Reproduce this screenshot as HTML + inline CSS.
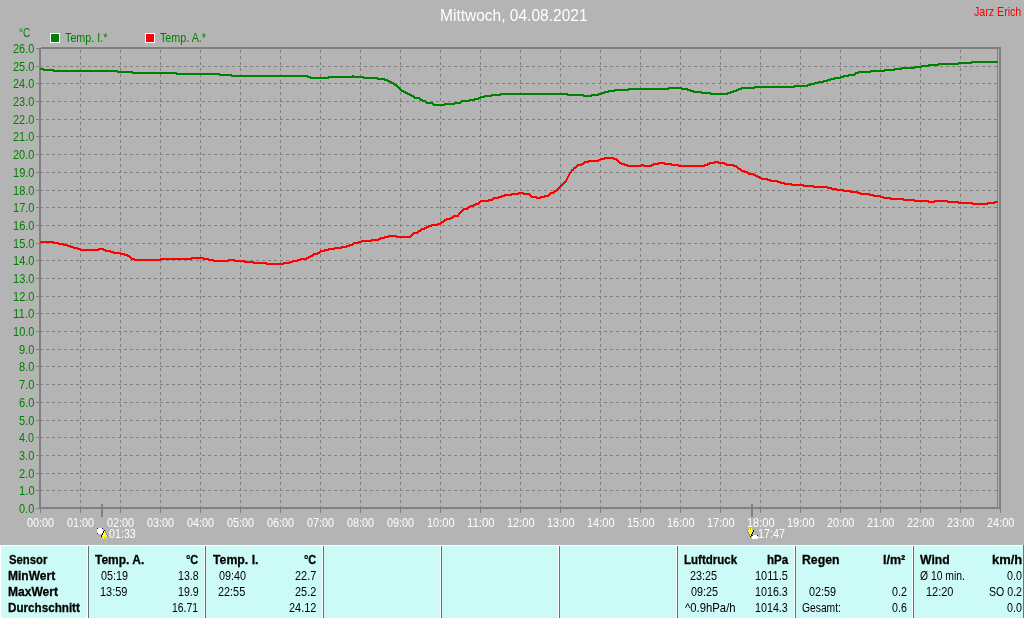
<!DOCTYPE html>
<html><head><meta charset="utf-8"><title>Mittwoch, 04.08.2021</title>
<style>
html,body{margin:0;padding:0;background:#b4b4b4;}
body{width:1024px;height:618px;position:relative;overflow:hidden;font-family:"Liberation Sans",sans-serif;}
#txt{position:absolute;left:0;top:0;width:1024px;height:618px;will-change:transform;}
span{position:absolute;white-space:pre;line-height:20px;transform-origin:0 0;display:block}
</style></head><body>
<svg width="1024" height="618" viewBox="0 0 1024 618" style="position:absolute;left:0;top:0" shape-rendering="crispEdges"><g stroke="#808080" stroke-width="1" stroke-dasharray="3 3" fill="none"><line x1="80.5" y1="509" x2="80.5" y2="49" /><line x1="120.5" y1="509" x2="120.5" y2="49" /><line x1="160.5" y1="509" x2="160.5" y2="49" /><line x1="200.5" y1="509" x2="200.5" y2="49" /><line x1="240.5" y1="509" x2="240.5" y2="49" /><line x1="280.5" y1="509" x2="280.5" y2="49" /><line x1="320.5" y1="509" x2="320.5" y2="49" /><line x1="360.5" y1="509" x2="360.5" y2="49" /><line x1="400.5" y1="509" x2="400.5" y2="49" /><line x1="440.5" y1="509" x2="440.5" y2="49" /><line x1="480.5" y1="509" x2="480.5" y2="49" /><line x1="520.5" y1="509" x2="520.5" y2="49" /><line x1="560.5" y1="509" x2="560.5" y2="49" /><line x1="600.5" y1="509" x2="600.5" y2="49" /><line x1="640.5" y1="509" x2="640.5" y2="49" /><line x1="680.5" y1="509" x2="680.5" y2="49" /><line x1="720.5" y1="509" x2="720.5" y2="49" /><line x1="760.5" y1="509" x2="760.5" y2="49" /><line x1="800.5" y1="509" x2="800.5" y2="49" /><line x1="840.5" y1="509" x2="840.5" y2="49" /><line x1="880.5" y1="509" x2="880.5" y2="49" /><line x1="920.5" y1="509" x2="920.5" y2="49" /><line x1="960.5" y1="509" x2="960.5" y2="49" /><line x1="40" y1="490.5" x2="997" y2="490.5" /><line x1="40" y1="473.5" x2="997" y2="473.5" /><line x1="40" y1="455.5" x2="997" y2="455.5" /><line x1="40" y1="437.5" x2="997" y2="437.5" /><line x1="40" y1="420.5" x2="997" y2="420.5" /><line x1="40" y1="402.5" x2="997" y2="402.5" /><line x1="40" y1="384.5" x2="997" y2="384.5" /><line x1="40" y1="366.5" x2="997" y2="366.5" /><line x1="40" y1="349.5" x2="997" y2="349.5" /><line x1="40" y1="331.5" x2="997" y2="331.5" /><line x1="40" y1="313.5" x2="997" y2="313.5" /><line x1="40" y1="296.5" x2="997" y2="296.5" /><line x1="40" y1="278.5" x2="997" y2="278.5" /><line x1="40" y1="260.5" x2="997" y2="260.5" /><line x1="40" y1="243.5" x2="997" y2="243.5" /><line x1="40" y1="225.5" x2="997" y2="225.5" /><line x1="40" y1="207.5" x2="997" y2="207.5" /><line x1="40" y1="190.5" x2="997" y2="190.5" /><line x1="40" y1="172.5" x2="997" y2="172.5" /><line x1="40" y1="154.5" x2="997" y2="154.5" /><line x1="40" y1="136.5" x2="997" y2="136.5" /><line x1="40" y1="119.5" x2="997" y2="119.5" /><line x1="40" y1="101.5" x2="997" y2="101.5" /><line x1="40" y1="83.5" x2="997" y2="83.5" /><line x1="40" y1="66.5" x2="997" y2="66.5" /></g><g fill="#808080"><rect x="36" y="508" width="3" height="1"/><rect x="36" y="490" width="3" height="1"/><rect x="36" y="473" width="3" height="1"/><rect x="36" y="455" width="3" height="1"/><rect x="36" y="437" width="3" height="1"/><rect x="36" y="420" width="3" height="1"/><rect x="36" y="402" width="3" height="1"/><rect x="36" y="384" width="3" height="1"/><rect x="36" y="366" width="3" height="1"/><rect x="36" y="349" width="3" height="1"/><rect x="36" y="331" width="3" height="1"/><rect x="36" y="313" width="3" height="1"/><rect x="36" y="296" width="3" height="1"/><rect x="36" y="278" width="3" height="1"/><rect x="36" y="260" width="3" height="1"/><rect x="36" y="243" width="3" height="1"/><rect x="36" y="225" width="3" height="1"/><rect x="36" y="207" width="3" height="1"/><rect x="36" y="190" width="3" height="1"/><rect x="36" y="172" width="3" height="1"/><rect x="36" y="154" width="3" height="1"/><rect x="36" y="136" width="3" height="1"/><rect x="36" y="119" width="3" height="1"/><rect x="36" y="101" width="3" height="1"/><rect x="36" y="83" width="3" height="1"/><rect x="36" y="66" width="3" height="1"/><rect x="36" y="48" width="3" height="1"/><rect x="40" y="509" width="1" height="4"/><rect x="80" y="509" width="1" height="4"/><rect x="120" y="509" width="1" height="4"/><rect x="160" y="509" width="1" height="4"/><rect x="200" y="509" width="1" height="4"/><rect x="240" y="509" width="1" height="4"/><rect x="280" y="509" width="1" height="4"/><rect x="320" y="509" width="1" height="4"/><rect x="360" y="509" width="1" height="4"/><rect x="400" y="509" width="1" height="4"/><rect x="440" y="509" width="1" height="4"/><rect x="480" y="509" width="1" height="4"/><rect x="520" y="509" width="1" height="4"/><rect x="560" y="509" width="1" height="4"/><rect x="600" y="509" width="1" height="4"/><rect x="640" y="509" width="1" height="4"/><rect x="680" y="509" width="1" height="4"/><rect x="720" y="509" width="1" height="4"/><rect x="760" y="509" width="1" height="4"/><rect x="800" y="509" width="1" height="4"/><rect x="840" y="509" width="1" height="4"/><rect x="880" y="509" width="1" height="4"/><rect x="920" y="509" width="1" height="4"/><rect x="960" y="509" width="1" height="4"/><rect x="1000" y="509" width="1" height="4"/><rect x="39" y="48" width="2" height="461"/><rect x="41" y="47" width="960" height="2"/><rect x="39" y="507" width="962" height="2"/><rect x="999" y="47" width="2" height="462"/><rect x="997" y="49" width="1" height="458"/><rect x="101" y="504" width="2" height="13"/><rect x="751" y="504" width="2" height="13"/></g><path d="M40,68h4v2h-4zM43,69h11v2h-11zM53,70h65v2h-65zM117,71h16v2h-16zM132,72h45v2h-45zM176,73h44v2h-44zM219,74h13v2h-13zM231,75h77v2h-77zM307,76h4v2h-4zM310,77h19v2h-19zM328,76h25v2h-25zM352,75h2v2h-2zM353,76h11v2h-11zM363,77h15v2h-15zM377,78h8v2h-8zM384,79h4v2h-4zM387,80h3v2h-3zM389,81h3v2h-3zM391,82h3v2h-3zM393,83h2v2h-2zM394,84h3v2h-3zM396,85h2v2h-2zM397,86h2v2h-2zM398,87h2v2h-2zM399,88h2v2h-2zM400,89h2v2h-2zM401,90h3v2h-3zM403,91h3v2h-3zM405,92h3v2h-3zM407,93h3v2h-3zM409,94h3v2h-3zM411,95h3v2h-3zM413,96h2v2h-2zM414,97h6v2h-6zM419,98h2v2h-2zM420,99h3v2h-3zM422,100h4v2h-4zM425,101h2v2h-2zM426,102h7v2h-7zM432,103h2v2h-2zM433,104h12v2h-12zM444,103h11v2h-11zM454,102h7v2h-7zM460,101h2v2h-2zM461,100h9v2h-9zM469,99h6v2h-6zM474,98h5v2h-5zM478,97h3v2h-3zM480,96h5v2h-5zM484,95h8v2h-8zM491,94h10v2h-10zM500,93h68v2h-68zM567,94h17v2h-17zM583,95h9v2h-9zM591,94h8v2h-8zM598,93h4v2h-4zM601,92h4v2h-4zM604,91h5v2h-5zM608,90h7v2h-7zM614,89h15v2h-15zM628,88h41v2h-41zM668,87h14v2h-14zM681,88h7v2h-7zM687,89h4v2h-4zM690,90h4v2h-4zM693,91h9v2h-9zM701,92h10v2h-10zM710,93h18v2h-18zM727,92h4v2h-4zM730,91h4v2h-4zM733,90h4v2h-4zM736,89h3v2h-3zM738,88h4v2h-4zM741,87h14v2h-14zM754,86h41v2h-41zM794,85h14v2h-14zM807,84h4v2h-4zM810,83h5v2h-5zM814,82h5v2h-5zM818,81h6v2h-6zM823,80h5v2h-5zM827,79h4v2h-4zM830,78h5v2h-5zM834,77h7v2h-7zM840,76h4v2h-4zM843,75h6v2h-6zM848,74h7v2h-7zM854,73h2v2h-2zM855,72h4v2h-4zM858,71h13v2h-13zM870,70h15v2h-15zM884,69h11v2h-11zM894,68h8v2h-8zM901,67h14v2h-14zM914,66h8v2h-8zM921,65h8v2h-8zM928,64h11v2h-11zM938,63h21v2h-21zM958,62h14v2h-14zM971,61h27v2h-27z" fill="#008000"/><path d="M40,241h14v2h-14zM53,242h6v2h-6zM58,243h6v2h-6zM63,244h5v2h-5zM67,245h4v2h-4zM70,246h4v2h-4zM73,247h5v2h-5zM77,248h4v2h-4zM80,249h19v2h-19zM98,248h6v2h-6zM103,249h3v2h-3zM105,250h6v2h-6zM110,251h4v2h-4zM113,252h8v2h-8zM120,253h5v2h-5zM124,254h4v2h-4zM127,255h3v2h-3zM129,256h2v2h-2zM130,257h2v2h-2zM131,258h4v2h-4zM134,259h27v2h-27zM160,258h32v2h-32zM191,257h13v2h-13zM203,258h6v2h-6zM208,259h6v2h-6zM213,260h16v2h-16zM228,259h7v2h-7zM234,260h11v2h-11zM244,261h10v2h-10zM253,262h14v2h-14zM266,263h18v2h-18zM283,262h7v2h-7zM289,261h4v2h-4zM292,260h6v2h-6zM297,259h4v2h-4zM300,258h7v2h-7zM306,257h3v2h-3zM308,256h3v2h-3zM310,255h3v2h-3zM312,254h2v2h-2zM313,253h5v2h-5zM317,252h3v2h-3zM319,251h2v2h-2zM320,250h5v2h-5zM324,249h5v2h-5zM328,248h7v2h-7zM334,247h8v2h-8zM341,246h6v2h-6zM346,245h4v2h-4zM349,244h4v2h-4zM352,243h2v2h-2zM353,242h6v2h-6zM358,241h4v2h-4zM361,240h11v2h-11zM371,239h8v2h-8zM378,238h3v2h-3zM380,237h5v2h-5zM384,236h5v2h-5zM388,235h9v2h-9zM396,236h15v2h-15zM410,235h2v2h-2zM411,234h2v2h-2zM412,233h2v2h-2zM413,232h5v2h-5zM417,231h2v2h-2zM418,230h3v2h-3zM420,229h2v2h-2zM421,228h4v2h-4zM424,227h3v2h-3zM426,226h3v2h-3zM428,225h4v2h-4zM431,224h7v2h-7zM437,223h4v2h-4zM440,222h2v2h-2zM441,221h3v2h-3zM443,220h2v2h-2zM444,219h3v2h-3zM446,218h5v2h-5zM450,217h3v2h-3zM452,216h2v2h-2zM453,215h6v2h-6zM458,213h2v2h-2zM459,212h2v2h-2zM460,211h2v2h-2zM461,210h2v2h-2zM462,209h2v2h-2zM463,208h5v2h-5zM467,207h2v2h-2zM468,206h3v2h-3zM470,205h4v2h-4zM473,204h3v2h-3zM475,203h4v2h-4zM478,202h2v2h-2zM479,201h2v2h-2zM480,200h9v2h-9zM488,199h5v2h-5zM492,198h2v2h-2zM493,197h6v2h-6zM498,196h4v2h-4zM501,195h4v2h-4zM504,194h8v2h-8zM511,193h8v2h-8zM518,192h6v2h-6zM523,193h7v2h-7zM529,194h2v2h-2zM530,195h2v2h-2zM531,196h6v2h-6zM536,197h5v2h-5zM540,196h5v2h-5zM544,195h5v2h-5zM548,194h2v2h-2zM549,193h2v2h-2zM550,192h4v2h-4zM553,191h2v2h-2zM554,190h3v2h-3zM556,189h2v2h-2zM557,188h2v2h-2zM558,187h2v2h-2zM559,186h2v2h-2zM560,185h2v2h-2zM561,184h2v2h-2zM562,183h2v2h-2zM563,182h2v2h-2zM564,181h2v2h-2zM565,180h2v2h-2zM566,178h2v2h-2zM567,176h2v2h-2zM568,174h2v2h-2zM569,172h2v2h-2zM570,171h2v2h-2zM571,169h3v2h-3zM573,167h3v2h-3zM575,166h2v2h-2zM576,165h2v2h-2zM577,164h5v2h-5zM581,163h3v2h-3zM583,162h2v2h-2zM584,161h5v2h-5zM588,160h11v2h-11zM598,159h3v2h-3zM600,158h5v2h-5zM604,157h10v2h-10zM613,158h4v2h-4zM616,159h2v2h-2zM617,160h2v2h-2zM618,161h2v2h-2zM619,162h3v2h-3zM621,163h4v2h-4zM624,164h4v2h-4zM627,165h15v2h-15zM641,164h3v2h-3zM643,165h9v2h-9zM651,164h3v2h-3zM653,163h6v2h-6zM658,162h7v2h-7zM664,163h8v2h-8zM671,164h8v2h-8zM678,165h27v2h-27zM704,164h4v2h-4zM707,163h3v2h-3zM709,162h6v2h-6zM714,161h5v2h-5zM718,162h7v2h-7zM724,163h3v2h-3zM726,164h8v2h-8zM733,165h4v2h-4zM736,166h2v2h-2zM737,167h2v2h-2zM738,168h3v2h-3zM740,169h2v2h-2zM741,170h4v2h-4zM744,171h4v2h-4zM747,172h2v2h-2zM748,173h6v2h-6zM753,174h3v2h-3zM755,175h3v2h-3zM757,176h3v2h-3zM759,177h3v2h-3zM761,178h7v2h-7zM767,179h4v2h-4zM770,180h8v2h-8zM777,181h4v2h-4zM780,182h5v2h-5zM784,183h8v2h-8zM791,184h13v2h-13zM803,185h11v2h-11zM813,186h15v2h-15zM827,187h5v2h-5zM831,188h6v2h-6zM836,189h8v2h-8zM843,190h8v2h-8zM850,191h8v2h-8zM857,192h4v2h-4zM860,193h10v2h-10zM869,194h5v2h-5zM873,195h8v2h-8zM880,196h4v2h-4zM883,197h8v2h-8zM890,198h14v2h-14zM903,199h12v2h-12zM914,200h15v2h-15zM928,201h7v2h-7zM934,200h14v2h-14zM947,201h12v2h-12zM958,202h15v2h-15zM972,203h16v2h-16zM987,202h8v2h-8zM994,201h4v2h-4z" fill="#ff0000"/><rect x="50" y="33" width="10" height="10" fill="#fff"/><rect x="51" y="34" width="8" height="8" fill="#008000"/><rect x="145" y="33" width="10" height="10" fill="#fff"/><rect x="146" y="34" width="8" height="8" fill="#ff0000"/><rect x="0" y="545" width="1024" height="73" fill="#ccfaf6"/><rect x="0" y="545" width="1024" height="1" fill="#fff"/><rect x="0" y="545" width="1" height="73" fill="#fff"/><rect x="1023" y="545" width="1" height="73" fill="#737070"/><rect x="87" y="546" width="1" height="72" fill="#fff"/><rect x="88" y="546" width="1" height="72" fill="#6e6e6e"/><rect x="204" y="546" width="1" height="72" fill="#fff"/><rect x="205" y="546" width="1" height="72" fill="#6e6e6e"/><rect x="322" y="546" width="1" height="72" fill="#fff"/><rect x="323" y="546" width="1" height="72" fill="#6e6e6e"/><rect x="440" y="546" width="1" height="72" fill="#fff"/><rect x="441" y="546" width="1" height="72" fill="#6e6e6e"/><rect x="558" y="546" width="1" height="72" fill="#fff"/><rect x="559" y="546" width="1" height="72" fill="#6e6e6e"/><rect x="676" y="546" width="1" height="72" fill="#fff"/><rect x="677" y="546" width="1" height="72" fill="#6e6e6e"/><rect x="794" y="546" width="1" height="72" fill="#fff"/><rect x="795" y="546" width="1" height="72" fill="#6e6e6e"/><rect x="912" y="546" width="1" height="72" fill="#fff"/><rect x="913" y="546" width="1" height="72" fill="#6e6e6e"/><rect x="97" y="528" width="6" height="6" fill="#fff"/><rect x="97" y="528" width="1" height="1" fill="#101090"/><rect x="102" y="528" width="1" height="1" fill="#101090"/><rect x="97" y="533" width="1" height="1" fill="#101090"/><rect x="104" y="530" width="1" height="1" fill="#000"/><rect x="103" y="531" width="1" height="2" fill="#000"/><rect x="104" y="531" width="1" height="2" fill="#ffff00"/><rect x="105" y="531" width="1" height="2" fill="#7b86e0"/><rect x="102" y="533" width="1" height="2" fill="#000"/><rect x="103" y="533" width="3" height="2" fill="#ffff00"/><rect x="106" y="533" width="1" height="2" fill="#7b86e0"/><rect x="101" y="535" width="1" height="2" fill="#000"/><rect x="102" y="535" width="5" height="2" fill="#ffff00"/><rect x="107" y="535" width="1" height="2" fill="#7b86e0"/><rect x="103" y="537" width="3" height="2" fill="#ffff00"/><rect x="104" y="537" width="1" height="2" fill="#c8c800"/><rect x="749" y="528" width="3" height="2" fill="#ffff00"/><rect x="750" y="528" width="1" height="2" fill="#c8c800"/><rect x="747" y="530" width="1" height="2" fill="#7b86e0"/><rect x="748" y="530" width="5" height="2" fill="#ffff00"/><rect x="753" y="530" width="1" height="2" fill="#000"/><rect x="748" y="532" width="1" height="2" fill="#7b86e0"/><rect x="749" y="532" width="3" height="2" fill="#ffff00"/><rect x="752" y="532" width="1" height="2" fill="#000"/><rect x="749" y="534" width="1" height="2" fill="#7b86e0"/><rect x="750" y="534" width="1" height="2" fill="#ffff00"/><rect x="751" y="534" width="1" height="2" fill="#000"/><rect x="750" y="536" width="1" height="1" fill="#000"/><rect x="752" y="535" width="6" height="4" fill="#fff"/><rect x="752" y="535" width="1" height="1" fill="#101090"/><rect x="757" y="535" width="1" height="1" fill="#101090"/></svg>
<div id="txt">
<span style="left:439.76px;top:6.48px;font-size:15.94px;color:#fff;font-weight:normal;transform:scaleX(0.9738)">Mittwoch, 04.08.2021</span>
<span style="left:973.69px;top:2.48px;font-size:13.04px;color:#ff0000;font-weight:normal;transform:scaleX(0.8161)">Jarz Erich</span>
<span style="left:19.40px;top:23.48px;font-size:13.04px;color:#008000;font-weight:normal;transform:scaleX(0.7596)">°C</span>
<span style="left:64.78px;top:28.48px;font-size:13.04px;color:#008000;font-weight:normal;transform:scaleX(0.8263)">Temp. I.*</span>
<span style="left:159.88px;top:28.48px;font-size:13.04px;color:#008000;font-weight:normal;transform:scaleX(0.8246)">Temp. A.*</span>
<span style="left:19.27px;top:499.48px;font-size:13.04px;color:#008000;font-weight:normal;transform:scaleX(0.8399)">0.0</span>
<span style="left:18.81px;top:481.48px;font-size:13.04px;color:#008000;font-weight:normal;transform:scaleX(0.8660)">1.0</span>
<span style="left:19.04px;top:464.48px;font-size:13.04px;color:#008000;font-weight:normal;transform:scaleX(0.8527)">2.0</span>
<span style="left:19.27px;top:446.48px;font-size:13.04px;color:#008000;font-weight:normal;transform:scaleX(0.8399)">3.0</span>
<span style="left:19.38px;top:428.48px;font-size:13.04px;color:#008000;font-weight:normal;transform:scaleX(0.8336)">4.0</span>
<span style="left:19.16px;top:411.48px;font-size:13.04px;color:#008000;font-weight:normal;transform:scaleX(0.8463)">5.0</span>
<span style="left:19.04px;top:393.48px;font-size:13.04px;color:#008000;font-weight:normal;transform:scaleX(0.8527)">6.0</span>
<span style="left:19.04px;top:375.48px;font-size:13.04px;color:#008000;font-weight:normal;transform:scaleX(0.8527)">7.0</span>
<span style="left:19.16px;top:357.48px;font-size:13.04px;color:#008000;font-weight:normal;transform:scaleX(0.8463)">8.0</span>
<span style="left:19.16px;top:340.48px;font-size:13.04px;color:#008000;font-weight:normal;transform:scaleX(0.8463)">9.0</span>
<span style="left:13.03px;top:322.48px;font-size:13.04px;color:#008000;font-weight:normal;transform:scaleX(0.8460)">10.0</span>
<span style="left:13.00px;top:304.48px;font-size:13.04px;color:#008000;font-weight:normal;transform:scaleX(0.8816)">11.0</span>
<span style="left:13.03px;top:287.48px;font-size:13.04px;color:#008000;font-weight:normal;transform:scaleX(0.8460)">12.0</span>
<span style="left:13.03px;top:269.48px;font-size:13.04px;color:#008000;font-weight:normal;transform:scaleX(0.8460)">13.0</span>
<span style="left:13.03px;top:251.48px;font-size:13.04px;color:#008000;font-weight:normal;transform:scaleX(0.8460)">14.0</span>
<span style="left:13.03px;top:234.48px;font-size:13.04px;color:#008000;font-weight:normal;transform:scaleX(0.8460)">15.0</span>
<span style="left:13.03px;top:216.48px;font-size:13.04px;color:#008000;font-weight:normal;transform:scaleX(0.8460)">16.0</span>
<span style="left:13.03px;top:198.48px;font-size:13.04px;color:#008000;font-weight:normal;transform:scaleX(0.8460)">17.0</span>
<span style="left:13.03px;top:181.48px;font-size:13.04px;color:#008000;font-weight:normal;transform:scaleX(0.8460)">18.0</span>
<span style="left:13.03px;top:163.48px;font-size:13.04px;color:#008000;font-weight:normal;transform:scaleX(0.8460)">19.0</span>
<span style="left:13.25px;top:145.48px;font-size:13.04px;color:#008000;font-weight:normal;transform:scaleX(0.8369)">20.0</span>
<span style="left:13.25px;top:127.48px;font-size:13.04px;color:#008000;font-weight:normal;transform:scaleX(0.8369)">21.0</span>
<span style="left:13.25px;top:110.48px;font-size:13.04px;color:#008000;font-weight:normal;transform:scaleX(0.8369)">22.0</span>
<span style="left:13.25px;top:92.48px;font-size:13.04px;color:#008000;font-weight:normal;transform:scaleX(0.8369)">23.0</span>
<span style="left:13.25px;top:74.48px;font-size:13.04px;color:#008000;font-weight:normal;transform:scaleX(0.8369)">24.0</span>
<span style="left:13.25px;top:57.48px;font-size:13.04px;color:#008000;font-weight:normal;transform:scaleX(0.8369)">25.0</span>
<span style="left:13.25px;top:39.48px;font-size:13.04px;color:#008000;font-weight:normal;transform:scaleX(0.8369)">26.0</span>
<span style="left:27.47px;top:513.48px;font-size:13.04px;color:#fff;font-weight:normal;transform:scaleX(0.8310)">00:00</span>
<span style="left:67.47px;top:513.48px;font-size:13.04px;color:#fff;font-weight:normal;transform:scaleX(0.8310)">01:00</span>
<span style="left:107.47px;top:513.48px;font-size:13.04px;color:#fff;font-weight:normal;transform:scaleX(0.8310)">02:00</span>
<span style="left:147.47px;top:513.48px;font-size:13.04px;color:#fff;font-weight:normal;transform:scaleX(0.8310)">03:00</span>
<span style="left:187.47px;top:513.48px;font-size:13.04px;color:#fff;font-weight:normal;transform:scaleX(0.8310)">04:00</span>
<span style="left:227.47px;top:513.48px;font-size:13.04px;color:#fff;font-weight:normal;transform:scaleX(0.8310)">05:00</span>
<span style="left:267.47px;top:513.48px;font-size:13.04px;color:#fff;font-weight:normal;transform:scaleX(0.8310)">06:00</span>
<span style="left:307.47px;top:513.48px;font-size:13.04px;color:#fff;font-weight:normal;transform:scaleX(0.8310)">07:00</span>
<span style="left:347.47px;top:513.48px;font-size:13.04px;color:#fff;font-weight:normal;transform:scaleX(0.8310)">08:00</span>
<span style="left:387.47px;top:513.48px;font-size:13.04px;color:#fff;font-weight:normal;transform:scaleX(0.8310)">09:00</span>
<span style="left:427.03px;top:513.48px;font-size:13.04px;color:#fff;font-weight:normal;transform:scaleX(0.8449)">10:00</span>
<span style="left:467.00px;top:513.48px;font-size:13.04px;color:#fff;font-weight:normal;transform:scaleX(0.8719)">11:00</span>
<span style="left:507.03px;top:513.48px;font-size:13.04px;color:#fff;font-weight:normal;transform:scaleX(0.8449)">12:00</span>
<span style="left:547.03px;top:513.48px;font-size:13.04px;color:#fff;font-weight:normal;transform:scaleX(0.8449)">13:00</span>
<span style="left:587.03px;top:513.48px;font-size:13.04px;color:#fff;font-weight:normal;transform:scaleX(0.8449)">14:00</span>
<span style="left:627.03px;top:513.48px;font-size:13.04px;color:#fff;font-weight:normal;transform:scaleX(0.8449)">15:00</span>
<span style="left:667.03px;top:513.48px;font-size:13.04px;color:#fff;font-weight:normal;transform:scaleX(0.8449)">16:00</span>
<span style="left:707.03px;top:513.48px;font-size:13.04px;color:#fff;font-weight:normal;transform:scaleX(0.8449)">17:00</span>
<span style="left:747.03px;top:513.48px;font-size:13.04px;color:#fff;font-weight:normal;transform:scaleX(0.8449)">18:00</span>
<span style="left:787.03px;top:513.48px;font-size:13.04px;color:#fff;font-weight:normal;transform:scaleX(0.8449)">19:00</span>
<span style="left:827.25px;top:513.48px;font-size:13.04px;color:#fff;font-weight:normal;transform:scaleX(0.8379)">20:00</span>
<span style="left:867.25px;top:513.48px;font-size:13.04px;color:#fff;font-weight:normal;transform:scaleX(0.8379)">21:00</span>
<span style="left:907.25px;top:513.48px;font-size:13.04px;color:#fff;font-weight:normal;transform:scaleX(0.8379)">22:00</span>
<span style="left:947.25px;top:513.48px;font-size:13.04px;color:#fff;font-weight:normal;transform:scaleX(0.8379)">23:00</span>
<span style="left:987.25px;top:513.48px;font-size:13.04px;color:#fff;font-weight:normal;transform:scaleX(0.8379)">24:00</span>
<span style="left:108.58px;top:524.48px;font-size:13.04px;color:#fff;font-weight:normal;transform:scaleX(0.8216)">01:33</span>
<span style="left:758.24px;top:524.48px;font-size:13.04px;color:#fff;font-weight:normal;transform:scaleX(0.8291)">17:47</span>
<span style="left:8.57px;top:550.48px;font-size:13.04px;color:#000;font-weight:bold;-webkit-text-stroke:0.3px #000;transform:scaleX(0.8693)">Sensor</span>
<span style="left:8.08px;top:566.48px;font-size:13.04px;color:#000;font-weight:bold;-webkit-text-stroke:0.3px #000;transform:scaleX(0.9212)">MinWert</span>
<span style="left:8.08px;top:582.48px;font-size:13.04px;color:#000;font-weight:bold;-webkit-text-stroke:0.3px #000;transform:scaleX(0.9252)">MaxWert</span>
<span style="left:8.10px;top:598.48px;font-size:13.04px;color:#000;font-weight:bold;-webkit-text-stroke:0.3px #000;transform:scaleX(0.8945)">Durchschnitt</span>
<span style="left:95.28px;top:550.48px;font-size:13.04px;color:#000;font-weight:bold;-webkit-text-stroke:0.3px #000;transform:scaleX(0.9194)">Temp. A.</span>
<span style="left:185.86px;top:550.48px;font-size:13.04px;color:#000;font-weight:bold;-webkit-text-stroke:0.3px #000;transform:scaleX(0.8393)">°C</span>
<span style="left:100.58px;top:566.48px;font-size:13.04px;color:#000;font-weight:normal;transform:scaleX(0.8281)">05:19</span>
<span style="left:177.66px;top:566.48px;font-size:13.04px;color:#000;font-weight:normal;transform:scaleX(0.8127)">13.8</span>
<span style="left:100.13px;top:582.48px;font-size:13.04px;color:#000;font-weight:normal;transform:scaleX(0.8420)">13:59</span>
<span style="left:177.65px;top:582.48px;font-size:13.04px;color:#000;font-weight:normal;transform:scaleX(0.8171)">19.9</span>
<span style="left:171.58px;top:598.48px;font-size:13.04px;color:#000;font-weight:normal;transform:scaleX(0.7938)">16.71</span>
<span style="left:213.28px;top:550.48px;font-size:13.04px;color:#000;font-weight:bold;-webkit-text-stroke:0.3px #000;transform:scaleX(0.9432)">Temp. I.</span>
<span style="left:303.96px;top:550.48px;font-size:13.04px;color:#000;font-weight:bold;-webkit-text-stroke:0.3px #000;transform:scaleX(0.8393)">°C</span>
<span style="left:218.58px;top:566.48px;font-size:13.04px;color:#000;font-weight:normal;transform:scaleX(0.8278)">09:40</span>
<span style="left:295.25px;top:566.48px;font-size:13.04px;color:#000;font-weight:normal;transform:scaleX(0.8373)">22.7</span>
<span style="left:218.36px;top:582.48px;font-size:13.04px;color:#000;font-weight:normal;transform:scaleX(0.8347)">22:55</span>
<span style="left:295.25px;top:582.48px;font-size:13.04px;color:#000;font-weight:normal;transform:scaleX(0.8373)">25.2</span>
<span style="left:289.15px;top:598.48px;font-size:13.04px;color:#000;font-weight:normal;transform:scaleX(0.8382)">24.12</span>
<span style="left:684.31px;top:550.48px;font-size:13.04px;color:#000;font-weight:bold;-webkit-text-stroke:0.3px #000;transform:scaleX(0.8839)">Luftdruck</span>
<span style="left:766.51px;top:550.48px;font-size:13.04px;color:#000;font-weight:bold;-webkit-text-stroke:0.3px #000;transform:scaleX(0.8879)">hPa</span>
<span style="left:690.36px;top:566.48px;font-size:13.04px;color:#000;font-weight:normal;transform:scaleX(0.8315)">23:25</span>
<span style="left:755.43px;top:566.48px;font-size:13.04px;color:#000;font-weight:normal;transform:scaleX(0.8446)">1011.5</span>
<span style="left:690.58px;top:582.48px;font-size:13.04px;color:#000;font-weight:normal;transform:scaleX(0.8247)">09:25</span>
<span style="left:755.45px;top:582.48px;font-size:13.04px;color:#000;font-weight:normal;transform:scaleX(0.8234)">1016.3</span>
<span style="left:685.00px;top:598.48px;font-size:13.04px;color:#000;font-weight:normal;transform:scaleX(0.8682)">^0.9hPa/h</span>
<span style="left:755.45px;top:598.48px;font-size:13.04px;color:#000;font-weight:normal;transform:scaleX(0.8234)">1014.3</span>
<span style="left:802.06px;top:550.48px;font-size:13.04px;color:#000;font-weight:bold;-webkit-text-stroke:0.3px #000;transform:scaleX(0.9405)">Regen</span>
<span style="left:883.25px;top:550.48px;font-size:13.04px;color:#000;font-weight:bold;-webkit-text-stroke:0.3px #000;transform:scaleX(0.9626)">l/m²</span>
<span style="left:808.57px;top:582.48px;font-size:13.04px;color:#000;font-weight:normal;transform:scaleX(0.8313)">02:59</span>
<span style="left:891.58px;top:582.48px;font-size:13.04px;color:#000;font-weight:normal;transform:scaleX(0.8229)">0.2</span>
<span style="left:802.29px;top:598.48px;font-size:13.04px;color:#000;font-weight:normal;transform:scaleX(0.7898)">Gesamt:</span>
<span style="left:891.58px;top:598.48px;font-size:13.04px;color:#000;font-weight:normal;transform:scaleX(0.8167)">0.6</span>
<span style="left:920.40px;top:550.48px;font-size:13.04px;color:#000;font-weight:bold;-webkit-text-stroke:0.3px #000;transform:scaleX(0.9337)">Wind</span>
<span style="left:991.92px;top:550.48px;font-size:13.04px;color:#000;font-weight:bold;-webkit-text-stroke:0.3px #000;transform:scaleX(0.9945)">km/h</span>
<span style="left:920.09px;top:566.48px;font-size:13.04px;color:#000;font-weight:normal;transform:scaleX(0.7947)">Ø 10 min.</span>
<span style="left:1007.48px;top:566.48px;font-size:13.04px;color:#000;font-weight:normal;transform:scaleX(0.8225)">0.0</span>
<span style="left:926.13px;top:582.48px;font-size:13.04px;color:#000;font-weight:normal;transform:scaleX(0.8417)">12:20</span>
<span style="left:989.48px;top:582.48px;font-size:13.04px;color:#000;font-weight:normal;transform:scaleX(0.8133)">SO 0.2</span>
<span style="left:1007.48px;top:598.48px;font-size:13.04px;color:#000;font-weight:normal;transform:scaleX(0.8225)">0.0</span>
</div>
</body></html>
